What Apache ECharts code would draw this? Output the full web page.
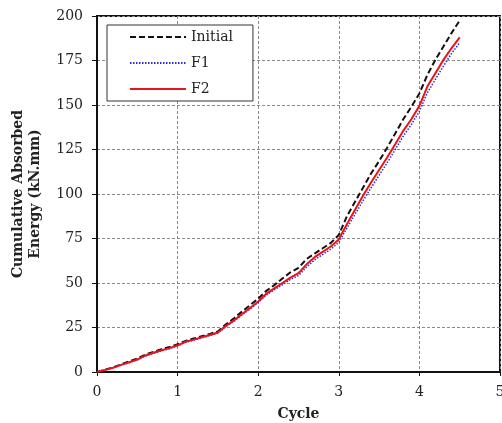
<!DOCTYPE html>
<html>
<head>
<meta charset="utf-8">
<script src="https://cdn.jsdelivr.net/npm/echarts@6/dist/echarts.min.js"></script>
<style>
  html, body { margin: 0; padding: 0; background: #fff; }
  #chart { width: 502px; height: 423px; }
</style>
</head>
<body>
<div id="chart"></div>
<script>
// Cycle positions (0 to 4.5 in steps of 0.1)
var cycles = [0, 0.1, 0.2, 0.3, 0.4, 0.5, 0.6, 0.7, 0.8, 0.9,
              1.0, 1.1, 1.2, 1.3, 1.4, 1.5, 1.6, 1.7, 1.8, 1.9,
              2.0, 2.1, 2.2, 2.3, 2.4, 2.5, 2.6, 2.7, 2.8, 2.9,
              3.0, 3.1, 3.2, 3.3, 3.4, 3.5, 3.6, 3.7, 3.8, 3.9,
              4.0, 4.1, 4.2, 4.3, 4.4, 4.5];

// Cumulative absorbed energy (kN.mm)
var initialEnergy = [0, 1.3, 2.6, 4.3, 5.9, 7.5, 9.8, 11.3, 12.8, 14.0,
                     15.6, 17.5, 18.8, 20.1, 21.4, 22.8, 26.8, 30.2, 34.0, 37.6,
                     41.2, 45.6, 48.8, 52.5, 56.0, 58.5, 63.5, 66.5, 69.5, 72.5,
                     77.0, 87.5, 95.5, 103.5, 111.5, 118.5, 126.0, 134.0, 142.0, 149.0,
                     156.5, 167.0, 175.5, 183.0, 190.5, 197.5];
var f1Energy = [0, 1.1, 2.3, 3.8, 5.3, 6.8, 9.0, 10.5, 11.9, 13.1,
                14.7, 16.7, 17.9, 19.2, 20.5, 21.9, 25.5, 28.6, 32.1, 35.4,
                39.0, 43.2, 46.2, 49.0, 52.0, 54.2, 59.0, 63.0, 66.0, 69.0,
                72.8, 80.8, 88.5, 96.2, 103.5, 110.5, 117.5, 125.0, 132.5, 139.0,
                146.5, 157.0, 164.5, 172.0, 179.0, 185.0];
var f2Energy = [0, 1.2, 2.4, 4.0, 5.5, 7.0, 9.3, 10.8, 12.2, 13.4,
                15.0, 17.0, 18.2, 19.5, 20.8, 22.2, 25.9, 29.0, 32.6, 36.0,
                39.6, 44.0, 47.0, 50.0, 53.0, 55.5, 60.5, 64.5, 67.5, 70.5,
                74.5, 83.0, 91.0, 99.0, 106.5, 113.5, 120.5, 128.0, 135.5, 142.0,
                149.5, 160.5, 168.0, 175.5, 182.0, 188.0];

var seriesNames = ['Initial', 'F1', 'F2'];
var xTicks = { min: 0, max: 5, step: 1 };
var yTicks = { min: 0, max: 200, step: 25 };

function pairs(xs, ys) {
  return xs.map(function (x, i) { return [x, ys[i]]; });
}

var serif = 'DejaVu Serif';
var chart = echarts.init(document.getElementById('chart'), null, { renderer: 'canvas' });

var gridLine = { show: true, lineStyle: { color: '#8a8a8a', type: [3, 2], width: 1 } };

chart.setOption({
  animation: false,
  backgroundColor: '#fff',
  grid: {
    left: 97, top: 16, right: 2, bottom: 51,
    outerBoundsMode: 'none', containLabel: false,
    show: true, borderColor: '#111', borderWidth: 2
  },
  legend: {
    orient: 'vertical',
    left: 107, top: 25,
    data: seriesNames,
    itemWidth: 56, itemHeight: 14, itemGap: 12,
    padding: [5, 20, 5, 22],
    backgroundColor: '#fff',
    borderColor: '#333', borderWidth: 1,
    // legend keys show only the line style, no marker
    itemStyle: { opacity: 0 },
    textStyle: { fontFamily: serif, fontSize: 14, color: '#222' }
  },
  xAxis: {
    type: 'value',
    min: xTicks.min, max: xTicks.max, interval: xTicks.step,
    name: 'Cycle', nameLocation: 'middle', nameGap: 35,
    nameTextStyle: { fontFamily: serif, fontWeight: 'bold', fontSize: 14, color: '#222' },
    axisLine: { show: true, onZero: false, lineStyle: { color: '#111', width: 2 } },
    axisTick: { show: true, inside: false, length: 4, lineStyle: { color: '#111' } },
    axisLabel: { fontFamily: serif, fontSize: 14, color: '#222', margin: 13 },
    splitLine: gridLine
  },
  yAxis: {
    type: 'value',
    min: yTicks.min, max: yTicks.max, interval: yTicks.step,
    name: 'Cumulative Absorbed\nEnergy (kN.mm)', nameLocation: 'middle', nameGap: 53,
    nameTextStyle: { fontFamily: serif, fontWeight: 'bold', fontSize: 14, color: '#222', lineHeight: 17 },
    axisLine: { show: true, onZero: false, lineStyle: { color: '#111', width: 2 } },
    axisTick: { show: true, inside: false, length: 5, lineStyle: { color: '#111' } },
    axisLabel: { fontFamily: serif, fontSize: 14, color: '#222', margin: 14 },
    splitLine: gridLine
  },
  series: [
    {
      name: seriesNames[0], type: 'line', symbol: 'none', z: 2,
      data: pairs(cycles, initialEnergy),
      lineStyle: { color: '#111', width: 2, type: [6, 3] },
      itemStyle: { color: '#111' }
    },
    {
      name: seriesNames[1], type: 'line', symbol: 'none', z: 3,
      data: pairs(cycles, f1Energy),
      lineStyle: { color: '#2b2bd8', width: 1.5, type: [1.5, 1.5] },
      itemStyle: { color: '#2b2bd8' }
    },
    {
      name: seriesNames[2], type: 'line', symbol: 'none', z: 4,
      data: pairs(cycles, f2Energy),
      lineStyle: { color: '#e8141c', width: 2 },
      itemStyle: { color: '#e8141c' }
    }
  ]
});
</script>
</body>
</html>
